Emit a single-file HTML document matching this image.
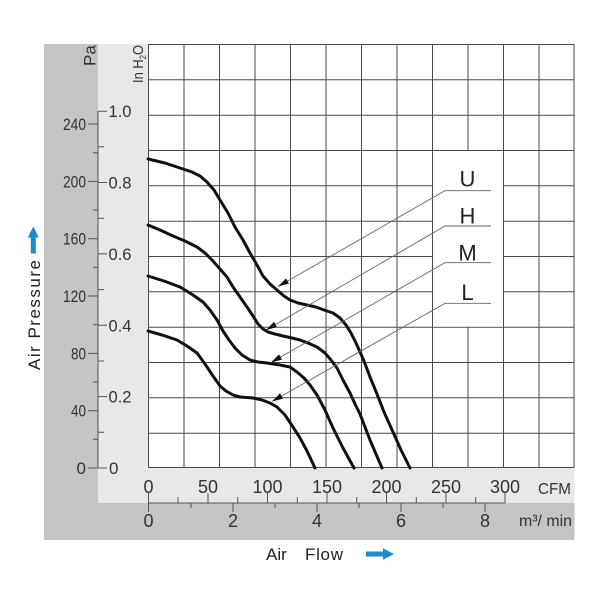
<!DOCTYPE html>
<html><head><meta charset="utf-8"><style>
html,body{margin:0;padding:0;background:#fff;}
svg{display:block;}
text{font-family:"Liberation Sans",Arial,sans-serif;}
</style></head><body>
<svg width="600" height="600" viewBox="0 0 600 600" xmlns="http://www.w3.org/2000/svg">
<rect x="0" y="0" width="600" height="600" fill="#fff"/>
<rect x="44" y="44" width="54" height="496" fill="#c4c4c4"/>
<rect x="98" y="503" width="476.5" height="37" fill="#c4c4c4"/>
<rect x="98" y="44" width="50" height="459" fill="#e8e8e8"/>
<rect x="148" y="468" width="426.5" height="35" fill="#e8e8e8"/>
<rect x="148" y="44" width="426" height="424" fill="#fff"/>
<g stroke="#4a4a4a" stroke-width="1" fill="none">
<path d="M148.5 44V468M184 44V468M219.5 44V468M255 44V468M290.5 44V468M326 44V468M361.5 44V468M397 44V468M432.5 44V468M468 44V468M503.5 44V468M539 44V468M574 44V468"/>
<path d="M148 44.5H574M148 79.8H574M148 115.2H574M148 150.5H574M148 185.8H574M148 221.2H574M148 256.5H574M148 291.8H574M148 327.2H574M148 362.5H574M148 397.8H574M148 433.2H574M148 467.5H574"/>
</g>
<rect x="433" y="151" width="70" height="175.7" fill="#fff"/>
<g stroke="#555" stroke-width="1" fill="none">
<path d="M98 111V468"/>
<path d="M88 468H107M88 410.7H98M88 353.4H98M88 296H98M88 238.7H98M88 181.4H98M88 124H98"/>
<path d="M93 439.3H98M93 382H98M93 324.7H98M93 267.4H98M93 210H98M93 152.7H98"/>
<path d="M98 396.6H107M98 325.3H107M98 253.9H107M98 182.5H107M98 111.2H107"/>
<path d="M98 432.3H104M98 361H104M98 289.6H104M98 218.2H104M98 146.8H104"/>
</g>
<g font-size="17" fill="#333" text-anchor="end">
<text x="86" y="474">0</text>
<text x="86" y="416.7" textLength="15" lengthAdjust="spacingAndGlyphs">40</text>
<text x="86" y="359.4" textLength="15" lengthAdjust="spacingAndGlyphs">80</text>
<text x="86" y="302" textLength="23" lengthAdjust="spacingAndGlyphs">120</text>
<text x="86" y="244.7" textLength="23" lengthAdjust="spacingAndGlyphs">160</text>
<text x="86" y="187.4" textLength="23" lengthAdjust="spacingAndGlyphs">200</text>
<text x="86" y="130" textLength="23" lengthAdjust="spacingAndGlyphs">240</text>
</g>
<g font-size="17" fill="#333">
<text x="109" y="474">0</text>
<text x="108.5" y="402.6" textLength="23" lengthAdjust="spacingAndGlyphs">0.2</text>
<text x="108.5" y="331.3" textLength="23" lengthAdjust="spacingAndGlyphs">0.4</text>
<text x="108.5" y="259.9" textLength="23" lengthAdjust="spacingAndGlyphs">0.6</text>
<text x="108.5" y="188.5" textLength="23" lengthAdjust="spacingAndGlyphs">0.8</text>
<text x="108.5" y="117.2" textLength="23" lengthAdjust="spacingAndGlyphs">1.0</text>
</g>
<text transform="translate(95.5,66) rotate(-90)" font-size="17" fill="#333">Pa</text>
<text transform="translate(143,83) rotate(-90)" font-size="15" fill="#333" textLength="38" lengthAdjust="spacingAndGlyphs">In H<tspan font-size="9" dy="3">2</tspan><tspan font-size="15" dy="-3">O</tspan></text>
<g stroke="#555" stroke-width="1" fill="none">
<path d="M148 503H505"/>
<path d="M148.5 493V512M208 493V503M267.5 493V503M327 493V503M386.5 493V503M446 493V503M505 493V503"/>
<path d="M178 497V503M237.7 497V503M297.3 497V503M356.7 497V503M416.3 497V503M475.7 497V503"/>
<path d="M233 503V512M317 503V512M401 503V512M485 503V512"/>
<path d="M191 503V508M275 503V508M359 503V508M443 503V508"/>
</g>
<g font-size="18" fill="#333" text-anchor="middle">
<text x="148.5" y="493">0</text>
<text x="208" y="493">50</text>
<text x="267.5" y="493">100</text>
<text x="327" y="493">150</text>
<text x="386.5" y="493">200</text>
<text x="446" y="493">250</text>
<text x="505" y="493">300</text>
<text x="148.5" y="527">0</text>
<text x="233" y="527">2</text>
<text x="317" y="527">4</text>
<text x="401" y="527">6</text>
<text x="485" y="527">8</text>
</g>
<text x="538" y="494" font-size="16" fill="#333" textLength="33" lengthAdjust="spacingAndGlyphs">CFM</text>
<text x="519" y="526" font-size="16" fill="#333" textLength="53" lengthAdjust="spacingAndGlyphs">m³/ min</text>
<text transform="translate(40,370) rotate(-90)" font-size="17" fill="#222" textLength="110" lengthAdjust="spacing">Air Pressure</text>
<path d="M33.3 226.5L38.8 237.5H35.8V253.5H30.8V237.5H27.8Z" fill="#1b8ccc"/>
<text x="266" y="560" font-size="17" fill="#222">Air</text>
<text x="305" y="560" font-size="17" fill="#222" textLength="38" lengthAdjust="spacing">Flow</text>
<path d="M366 551.5H383V548.3L394 554L383 559.7V556.5H366Z" fill="#1b8ccc"/>
<g fill="none" stroke="#111" stroke-width="3" stroke-linejoin="round" stroke-linecap="round">
<polyline points="148,159 165,163 183,169 192,172 200,176 207,182 214,190 220,200 228,213 235,227 243,240 250,253 257,265 263,276 270,284 277,290 284,296 290,300 298,303 307,305 316,307 324,310 333,313 340,318 346,325 351,333 356,343 360,352 364,361 370,377 377,394 384,412 393,432 401,450 410,468"/>
<polyline points="148,225 160,230 173,236 185,241 197,247 205,253 212,260 220,269 227,277 233,287 240,297 247,307 253,316 258,324 263,329 268,332 275,334 283,336 292,338 300,340 308,343 317,347 325,353 331,360 337,368 343,380 350,393 355,404 360,414 370,440 382,468"/>
<polyline points="148,276 164,281 180,287 193,295 203,302 210,310 217,320 223,331 229,340 235,348 242,355 250,360 258,362 267,363 280,365 290,367 297,372 304,378 310,385 317,395 325,410 333,428 343,448 354,468"/>
<polyline points="148,331 162,335 177,340 187,346 197,353 205,364 213,376 220,386 226,391 233,395 240,397 253,398 262,400 270,403 277,407 285,415 293,427 300,438 307,451 315,468"/>
</g>
<g fill="none" stroke="#666" stroke-width="0.9">
<path d="M278 286.5L445 190.7H491"/>
<path d="M266 330L445 226H491"/>
<path d="M271 362.5L445 262.7H491"/>
<path d="M272 401.5L445 303.3H491"/>
</g>
<g fill="#111">
<path d="M278 286.5L289 283.6L286 278.4Z"/>
<path d="M266 330L277 327.1L274 321.9Z"/>
<path d="M271 362.5L282 359.6L279 354.4Z"/>
<path d="M272 401.5L283 398.6L280 393.4Z"/>
</g>
<g font-size="22" fill="#222" text-anchor="middle">
<text x="467.5" y="186.5">U</text>
<text x="467.5" y="223.5">H</text>
<text x="467.5" y="260.5">M</text>
<text x="467.5" y="300">L</text>
</g>
</svg>
</body></html>
